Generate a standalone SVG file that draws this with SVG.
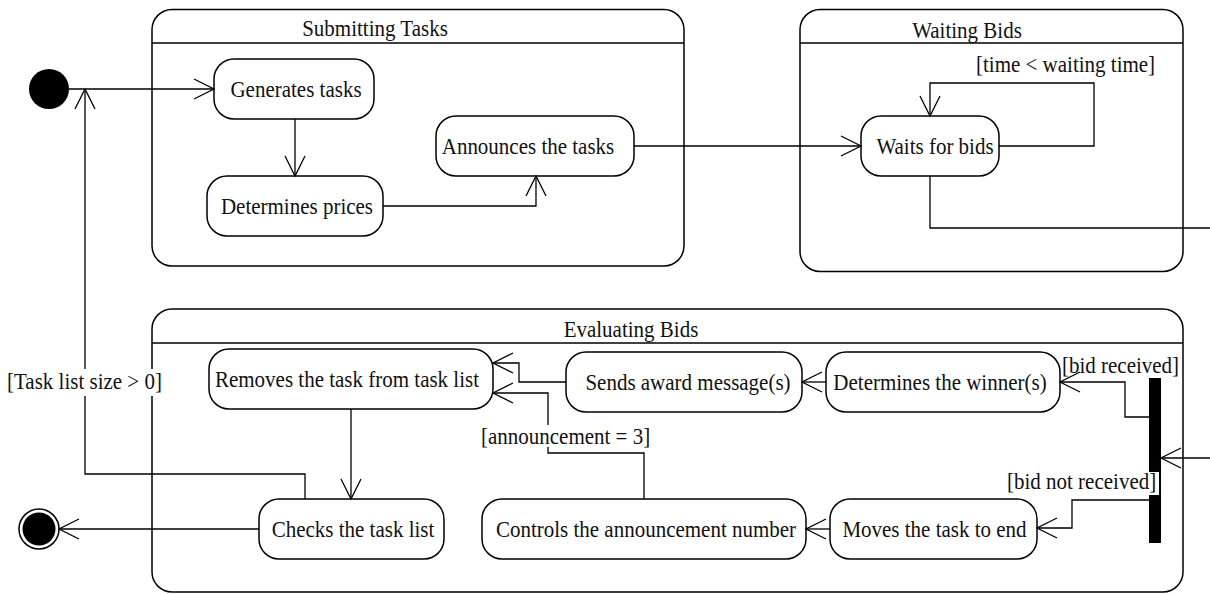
<svg xmlns="http://www.w3.org/2000/svg" width="1210" height="594" viewBox="0 0 1210 594">
  <style>
    .frame { fill: #ffffff; stroke: #000000; stroke-width: 1.5; }
    .state { fill: #ffffff; stroke: #000000; stroke-width: 1.5; }
    .divider { stroke: #000000; stroke-width: 1.5; }
    .edge { fill: none; stroke: #000000; stroke-width: 1.3; marker-end: url(#open-arrow); }
    .edge-plain { fill: none; stroke: #000000; stroke-width: 1.3; }
    text {
      font-family: "Liberation Serif", "Times New Roman", serif;
      font-size: 21px;
      fill: #111111;
      transform-box: fill-box;
      transform-origin: center;
      transform: scaleY(1.08);
    }
    .mid { text-anchor: middle; }
    .guard-bg { fill: #ffffff; stroke: none; }
  </style>
  <defs>
    <marker id="open-arrow" viewBox="-22 -12 24 24" markerWidth="24" markerHeight="24" refX="0" refY="0" markerUnits="userSpaceOnUse" orient="auto">
      <path d="M-20,-10 L0,0 L-20,10" fill="none" stroke="#000000" stroke-width="1.3"/>
    </marker>
  </defs>

  <rect width="1210" height="594" fill="#ffffff"/>

  <!-- composite states -->
  <g id="submitting-tasks">
    <rect class="frame" x="152" y="9.5" width="532" height="256.5" rx="20"/>
    <line class="divider" x1="152" y1="43" x2="684" y2="43"/>
    <text class="mid" x="375" y="35.5">Submitting Tasks</text>
  </g>
  <g id="waiting-bids">
    <rect class="frame" x="800" y="9.5" width="383" height="262" rx="20"/>
    <line class="divider" x1="800" y1="43" x2="1183" y2="43"/>
    <text class="mid" x="967" y="37">Waiting Bids</text>
  </g>
  <g id="evaluating-bids">
    <rect class="frame" x="152" y="309" width="1031" height="283" rx="20"/>
    <line class="divider" x1="152" y1="343" x2="1183" y2="343"/>
    <text class="mid" x="631" y="336">Evaluating Bids</text>
  </g>

  <!-- pseudo states -->
  <g id="initial">
    <circle cx="49" cy="89" r="20" fill="#000000"/>
  </g>
  <g id="final">
    <circle cx="39" cy="529" r="20" fill="#ffffff" stroke="#000000" stroke-width="1.5"/>
    <circle cx="39" cy="529" r="16.5" fill="#000000"/>
  </g>

  <!-- simple states -->
  <g id="generates-tasks">
    <rect class="state" x="214" y="59" width="160" height="60" rx="20"/>
    <text class="mid" x="296" y="96.5">Generates tasks</text>
  </g>
  <g id="determines-prices">
    <rect class="state" x="207" y="176" width="176" height="60" rx="20"/>
    <text class="mid" x="297" y="213.5">Determines prices</text>
  </g>
  <g id="announces-tasks">
    <rect class="state" x="436" y="116" width="198" height="60" rx="20"/>
    <text class="mid" x="528" y="153.5">Announces the tasks</text>
  </g>
  <g id="waits-for-bids">
    <rect class="state" x="861" y="116" width="138" height="60" rx="20"/>
    <text class="mid" x="935" y="153.5">Waits for bids</text>
  </g>
  <g id="removes-task">
    <rect class="state" x="209" y="349" width="284" height="60" rx="20"/>
    <text class="mid" x="347" y="386.5">Removes the task from task list</text>
  </g>
  <g id="sends-award">
    <rect class="state" x="566" y="352" width="236" height="60" rx="20"/>
    <text class="mid" x="688" y="389.5">Sends award message(s)</text>
  </g>
  <g id="determines-winner">
    <rect class="state" x="826" y="352" width="234" height="60" rx="20"/>
    <text class="mid" x="940" y="389.5">Determines the winner(s)</text>
  </g>
  <g id="checks-task-list">
    <rect class="state" x="259" y="499" width="185" height="60" rx="20"/>
    <text class="mid" x="353" y="536.5">Checks the task list</text>
  </g>
  <g id="controls-announcement">
    <rect class="state" x="482" y="499" width="324" height="60" rx="20"/>
    <text class="mid" x="646" y="536.5">Controls the announcement number</text>
  </g>
  <g id="moves-task">
    <rect class="state" x="830" y="499" width="207" height="60" rx="20"/>
    <text class="mid" x="934.5" y="536.5">Moves the task to end</text>
  </g>
  <g id="fork-bar">
    <rect x="1149" y="378" width="12" height="165" fill="#000000"/>
  </g>

  <!-- transitions -->
  <g id="connectors">
    <path class="edge" d="M69,89 H214"/>
    <path class="edge" d="M295,119 V176"/>
    <path class="edge" d="M383,206 H536 V176"/>
    <path class="edge" d="M634,146 H861"/>
    <path class="edge" d="M999,146 H1094 V83 H930 V116"/>
    <path class="edge-plain" d="M930,176 V228 H1210"/>
    <path class="edge" d="M1210,458 H1161"/>
    <path class="edge" d="M1149,417 H1125 V382 H1060"/>
    <path class="edge" d="M1149,500 H1072 V528 H1037"/>
    <path class="edge" d="M826,382 H802"/>
    <path class="edge" d="M566,382 H519 V363 H493"/>
    <path class="edge" d="M830,529 H806"/>
    <path class="edge" d="M644,499 V453 H548 V393 H493"/>
    <path class="edge" d="M351,409 V499"/>
    <path class="edge" d="M259,529 H59"/>
    <path class="edge" d="M305,499 V474 H85 V89"/>
  </g>

  <!-- guard labels -->
  <g id="guards">
    <text x="976" y="71">[time &lt; waiting time]</text>
    <rect class="guard-bg" x="5" y="369" width="161" height="27"/>
    <text x="7" y="388">[Task list size &gt; 0]</text>
    <rect class="guard-bg" x="479" y="425" width="173" height="22"/>
    <text x="481" y="443">[announcement = 3]</text>
    <text x="1062" y="372">[bid received]</text>
    <rect class="guard-bg" x="1005" y="472" width="154" height="23"/>
    <text x="1007" y="488">[bid not received]</text>
  </g>
</svg>
